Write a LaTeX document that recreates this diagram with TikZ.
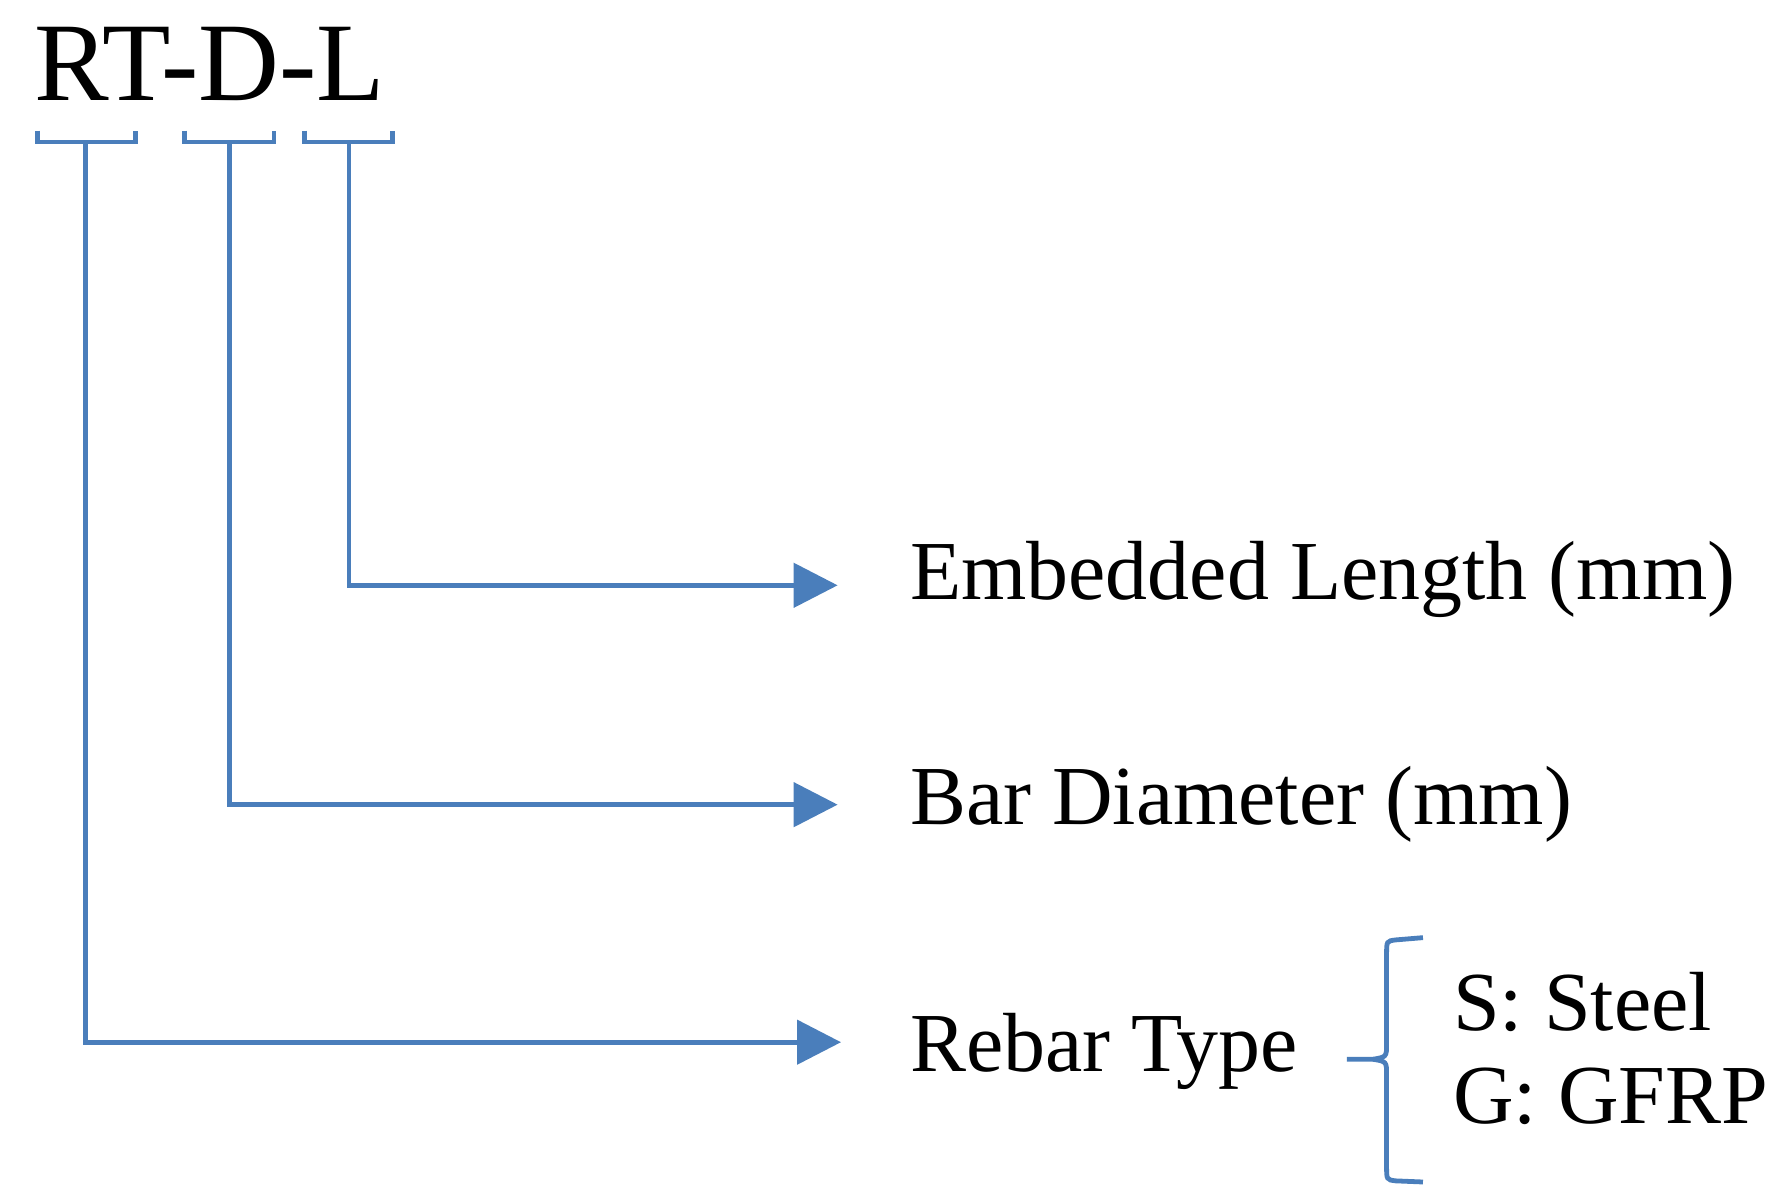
\documentclass[tikz,border=0pt]{standalone}
\usepackage{fontspec}
\setmainfont{Liberation Serif}
\usetikzlibrary{arrows.meta}
\definecolor{lineblue}{HTML}{4A7EBB}
\tikzset{
  link/.style = {lineblue, line width=1.2pt, -{Triangle[length=11pt,width=11pt]}},
  tick/.style = {lineblue, line width=1.2pt},
  lbl/.style  = {anchor=west, inner sep=0pt, font=\fontsize{21}{24}\selectfont},
}
\begin{document}
\begin{tikzpicture}[x=0.01cm,y=-0.01cm]
                \useasboundingbox (0,0) rectangle (1560,1058);
                \node[anchor=base west, inner sep=0pt, font=\fontsize{28}{32}\selectfont] (code) at (30,88) {RT-D-L};
                % brackets under the code
                \draw[tick] (33,115) -- (33,125) -- (119,125) -- (119,115);
                \draw[tick] (162,115) -- (162,125) -- (241,125) -- (241,115);
                \draw[tick] (268,115) -- (268,125) -- (345,125) -- (345,115);
                \coordinate (rt) at (75,125);
                \coordinate (d) at (202,125);
                \coordinate (l) at (307,125);

                \node[lbl] (len) at (800,510) {Embedded Length (mm)};
                \node[lbl] (dia) at (800,708) {Bar Diameter (mm)};
                \node[lbl] (type) at (800,925) {Rebar Type};
                \draw[link] (l) |- (737,515);
                \draw[link] (d) |- (737,708);
                \draw[link] (rt) |- (740,917);

                % brace with the two types
                \draw[tick] (1252,825) -- (1228,827) .. controls (1220,828) .. (1220,840) -- (1220,918)
                    .. controls (1220,930) .. (1208,932) -- (1185,932);
                \draw[tick] (1208,932) .. controls (1220,934) .. (1220,946) -- (1220,1026)
                    .. controls (1220,1038) .. (1228,1039) -- (1252,1040);
                \node[lbl] (steel) at (1278,882) {S: Steel};
                \node[lbl] (gfrp) at (1278,965) {G: GFRP};
\end{tikzpicture}
\end{document}
